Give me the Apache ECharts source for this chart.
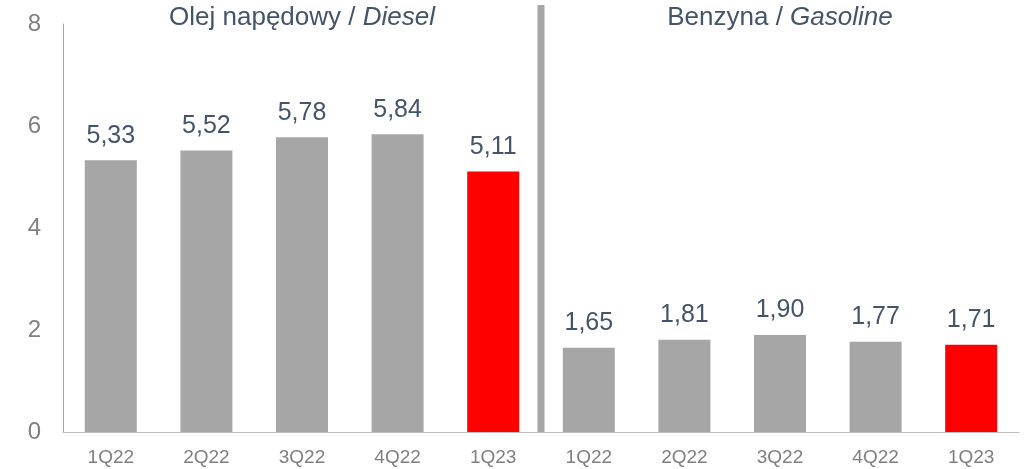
<!DOCTYPE html>
<html>
<head>
<meta charset="utf-8">
<script src="https://cdn.jsdelivr.net/npm/echarts@6/dist/echarts.min.js"></script>
<style>
  html, body { margin: 0; padding: 0; background: #fff; }
  #chart { width: 1026px; height: 469px; }
</style>
</head>
<body>
<div id="chart"></div>
<script>
// quarters, repeated for the two fuel groups
var quarters = ['1Q22', '2Q22', '3Q22', '4Q22', '1Q23'];
var dieselValues = [5.33, 5.52, 5.78, 5.84, 5.11];
var gasolineValues = [1.65, 1.81, 1.90, 1.77, 1.71];
var yTicks = [0, 2, 4, 6, 8];

var grey = '#a6a6a6';
var red = '#ff0000';
var textBlue = '#44546a';
var font = 'Liberation Sans, Arial, sans-serif';

// build flat category list and bar data
var categories = quarters.concat(quarters);
var values = dieselValues.concat(gasolineValues);
var barData = values.map(function (v, i) {
    // latest quarter of each group highlighted in red
    var isLast = (i % quarters.length) === quarters.length - 1;
    return { value: v, itemStyle: { color: isLast ? red : grey } };
});

var chart = echarts.init(document.getElementById('chart'));

var option = {
    animation: false,
    textStyle: { fontFamily: font },
    grid: { left: 63, right: 7, top: 24, bottom: 37 },
    xAxis: {
        type: 'category',
        data: categories,
        axisLine: { lineStyle: { color: '#bfbfbf', width: 1 } },
        axisTick: { show: false },
        axisLabel: { color: '#808080', fontSize: 19, margin: 16 }
    },
    yAxis: {
        type: 'value',
        min: yTicks[0],
        max: yTicks[yTicks.length - 1],
        interval: 2,
        splitLine: { show: false },
        axisLine: { show: true, lineStyle: { color: '#a6a6a6', width: 1 } },
        axisTick: { show: false },
        axisLabel: { color: '#808080', fontSize: 24, margin: 22 }
    },
    series: [{
        type: 'bar',
        data: barData,
        barWidth: 52,
        label: {
            show: true,
            position: 'top',
            distance: 12,
            color: textBlue,
            fontSize: 25,
            formatter: function (p) { return p.value.toFixed(2).replace('.', ','); }
        }
    }]
};

chart.setOption(option);

// group titles and separator, placed with the axis scale
var halfBand = (chart.convertToPixel({ xAxisIndex: 0 }, 1) - chart.convertToPixel({ xAxisIndex: 0 }, 0)) / 2;
var leftEdge = chart.convertToPixel({ xAxisIndex: 0 }, 0) - halfBand;
var sepX = chart.convertToPixel({ xAxisIndex: 0 }, 4) + halfBand;
var rightEdge = chart.convertToPixel({ xAxisIndex: 0 }, 9) + halfBand;
var y0 = chart.convertToPixel({ yAxisIndex: 0 }, 0);

var titleRich = {
    n: { fill: textBlue, fontSize: 26, fontFamily: font },
    i: { fill: textBlue, fontSize: 26, fontStyle: 'italic', fontFamily: font }
};

chart.setOption({
    graphic: [
        {
            type: 'rect',
            shape: { x: sepX - 3.5, y: 5, width: 7, height: y0 - 5 },
            style: { fill: grey },
            z: 10
        },
        {
            type: 'text',
            x: (leftEdge + sepX) / 2,
            y: 18,
            style: {
                text: '{n|Olej napędowy / }{i|Diesel}',
                rich: titleRich,
                align: 'center',
                verticalAlign: 'middle'
            }
        },
        {
            type: 'text',
            x: (sepX + rightEdge) / 2,
            y: 18,
            style: {
                text: '{n|Benzyna / }{i|Gasoline}',
                rich: titleRich,
                align: 'center',
                verticalAlign: 'middle'
            }
        }
    ]
});
</script>
</body>
</html>
